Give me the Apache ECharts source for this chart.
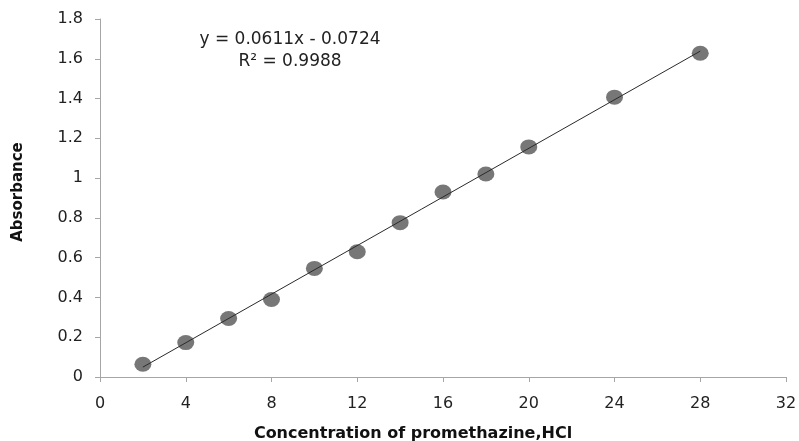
<!DOCTYPE html>
<html>
<head>
<meta charset="utf-8">
<script src="https://cdn.jsdelivr.net/npm/echarts@6/dist/echarts.min.js"></script>
<style>html,body{margin:0;padding:0;background:#fff}#c{width:799px;height:441px}</style>
</head>
<body>
<div id="c"></div>
<script>
const concentrations = [2, 4, 6, 8, 10, 12, 14, 16, 18, 20, 24, 28];
const absorbances = [0.064, 0.173, 0.294, 0.39, 0.546, 0.63, 0.776, 0.93, 1.021, 1.157, 1.407, 1.628];
const trendSlope = 0.0611;
const trendIntercept = -0.0724;
const trendRange = [2, 28];
const equationLines = ['y = 0.0611x - 0.0724', 'R² = 0.9988'];
const xTitle = 'Concentration of promethazine,HCl';
const yTitle = 'Absorbance';

const points = concentrations.map((x, i) => [x, absorbances[i]]);
const trend = trendRange.map(x => [x, trendSlope * x + trendIntercept]);
const font = '"DejaVu Sans", "Liberation Sans", sans-serif';

const chart = echarts.init(document.getElementById('c'), null, {renderer: 'canvas'});
chart.setOption({
  animation: false,
  backgroundColor: '#fff',
  grid: {left: 100, right: 13, top: 19, bottom: 64, containLabel: false, outerBoundsMode: 'none'},
  xAxis: {
    type: 'value', min: 0, max: 32, interval: 4,
    axisLine: {show: true, lineStyle: {color: '#a6a6a6', width: 1}},
    axisTick: {show: true, length: 5, lineStyle: {color: '#a6a6a6'}},
    splitLine: {show: false},
    axisLabel: {color: '#222', fontSize: 16, fontFamily: font, margin: 19},
    name: xTitle, nameLocation: 'middle', nameGap: 49,
    nameTextStyle: {color: '#111', fontSize: 16, fontWeight: 'bold', fontFamily: font, padding: [0, 60, 0, 0]}
  },
  yAxis: {
    type: 'value', min: 0, max: 1.8, interval: 0.2,
    axisLine: {show: true, lineStyle: {color: '#a6a6a6', width: 1}},
    axisTick: {show: true, length: 5, lineStyle: {color: '#a6a6a6'}},
    splitLine: {show: false},
    axisLabel: {color: '#222', fontSize: 16, fontFamily: font, margin: 17,
      formatter: v => String(Math.round(v * 10) / 10)},
    name: yTitle, nameLocation: 'middle', nameGap: 74, nameRotate: 90,
    nameTextStyle: {color: '#111', fontSize: 15, fontWeight: 'bold', fontFamily: font, padding: [0, 0, 0, 12]}
  },
  title: {
    text: equationLines.join('\n'),
    left: 285, top: 24, textAlign: 'center',
    textStyle: {color: '#222', fontSize: 17, fontWeight: 'normal', fontFamily: font, lineHeight: 22, align: 'center'}
  },
  series: [
    {
      type: 'scatter', data: points, symbol: 'circle', symbolSize: [17, 15],
      itemStyle: {color: '#555555'}, z: 2, silent: true
    },
    {
      type: 'line', data: trend, showSymbol: false, symbol: 'none',
      lineStyle: {color: '#2a2a2a', width: 1}, z: 3, silent: true
    }
  ]
});
</script>
</body>
</html>
